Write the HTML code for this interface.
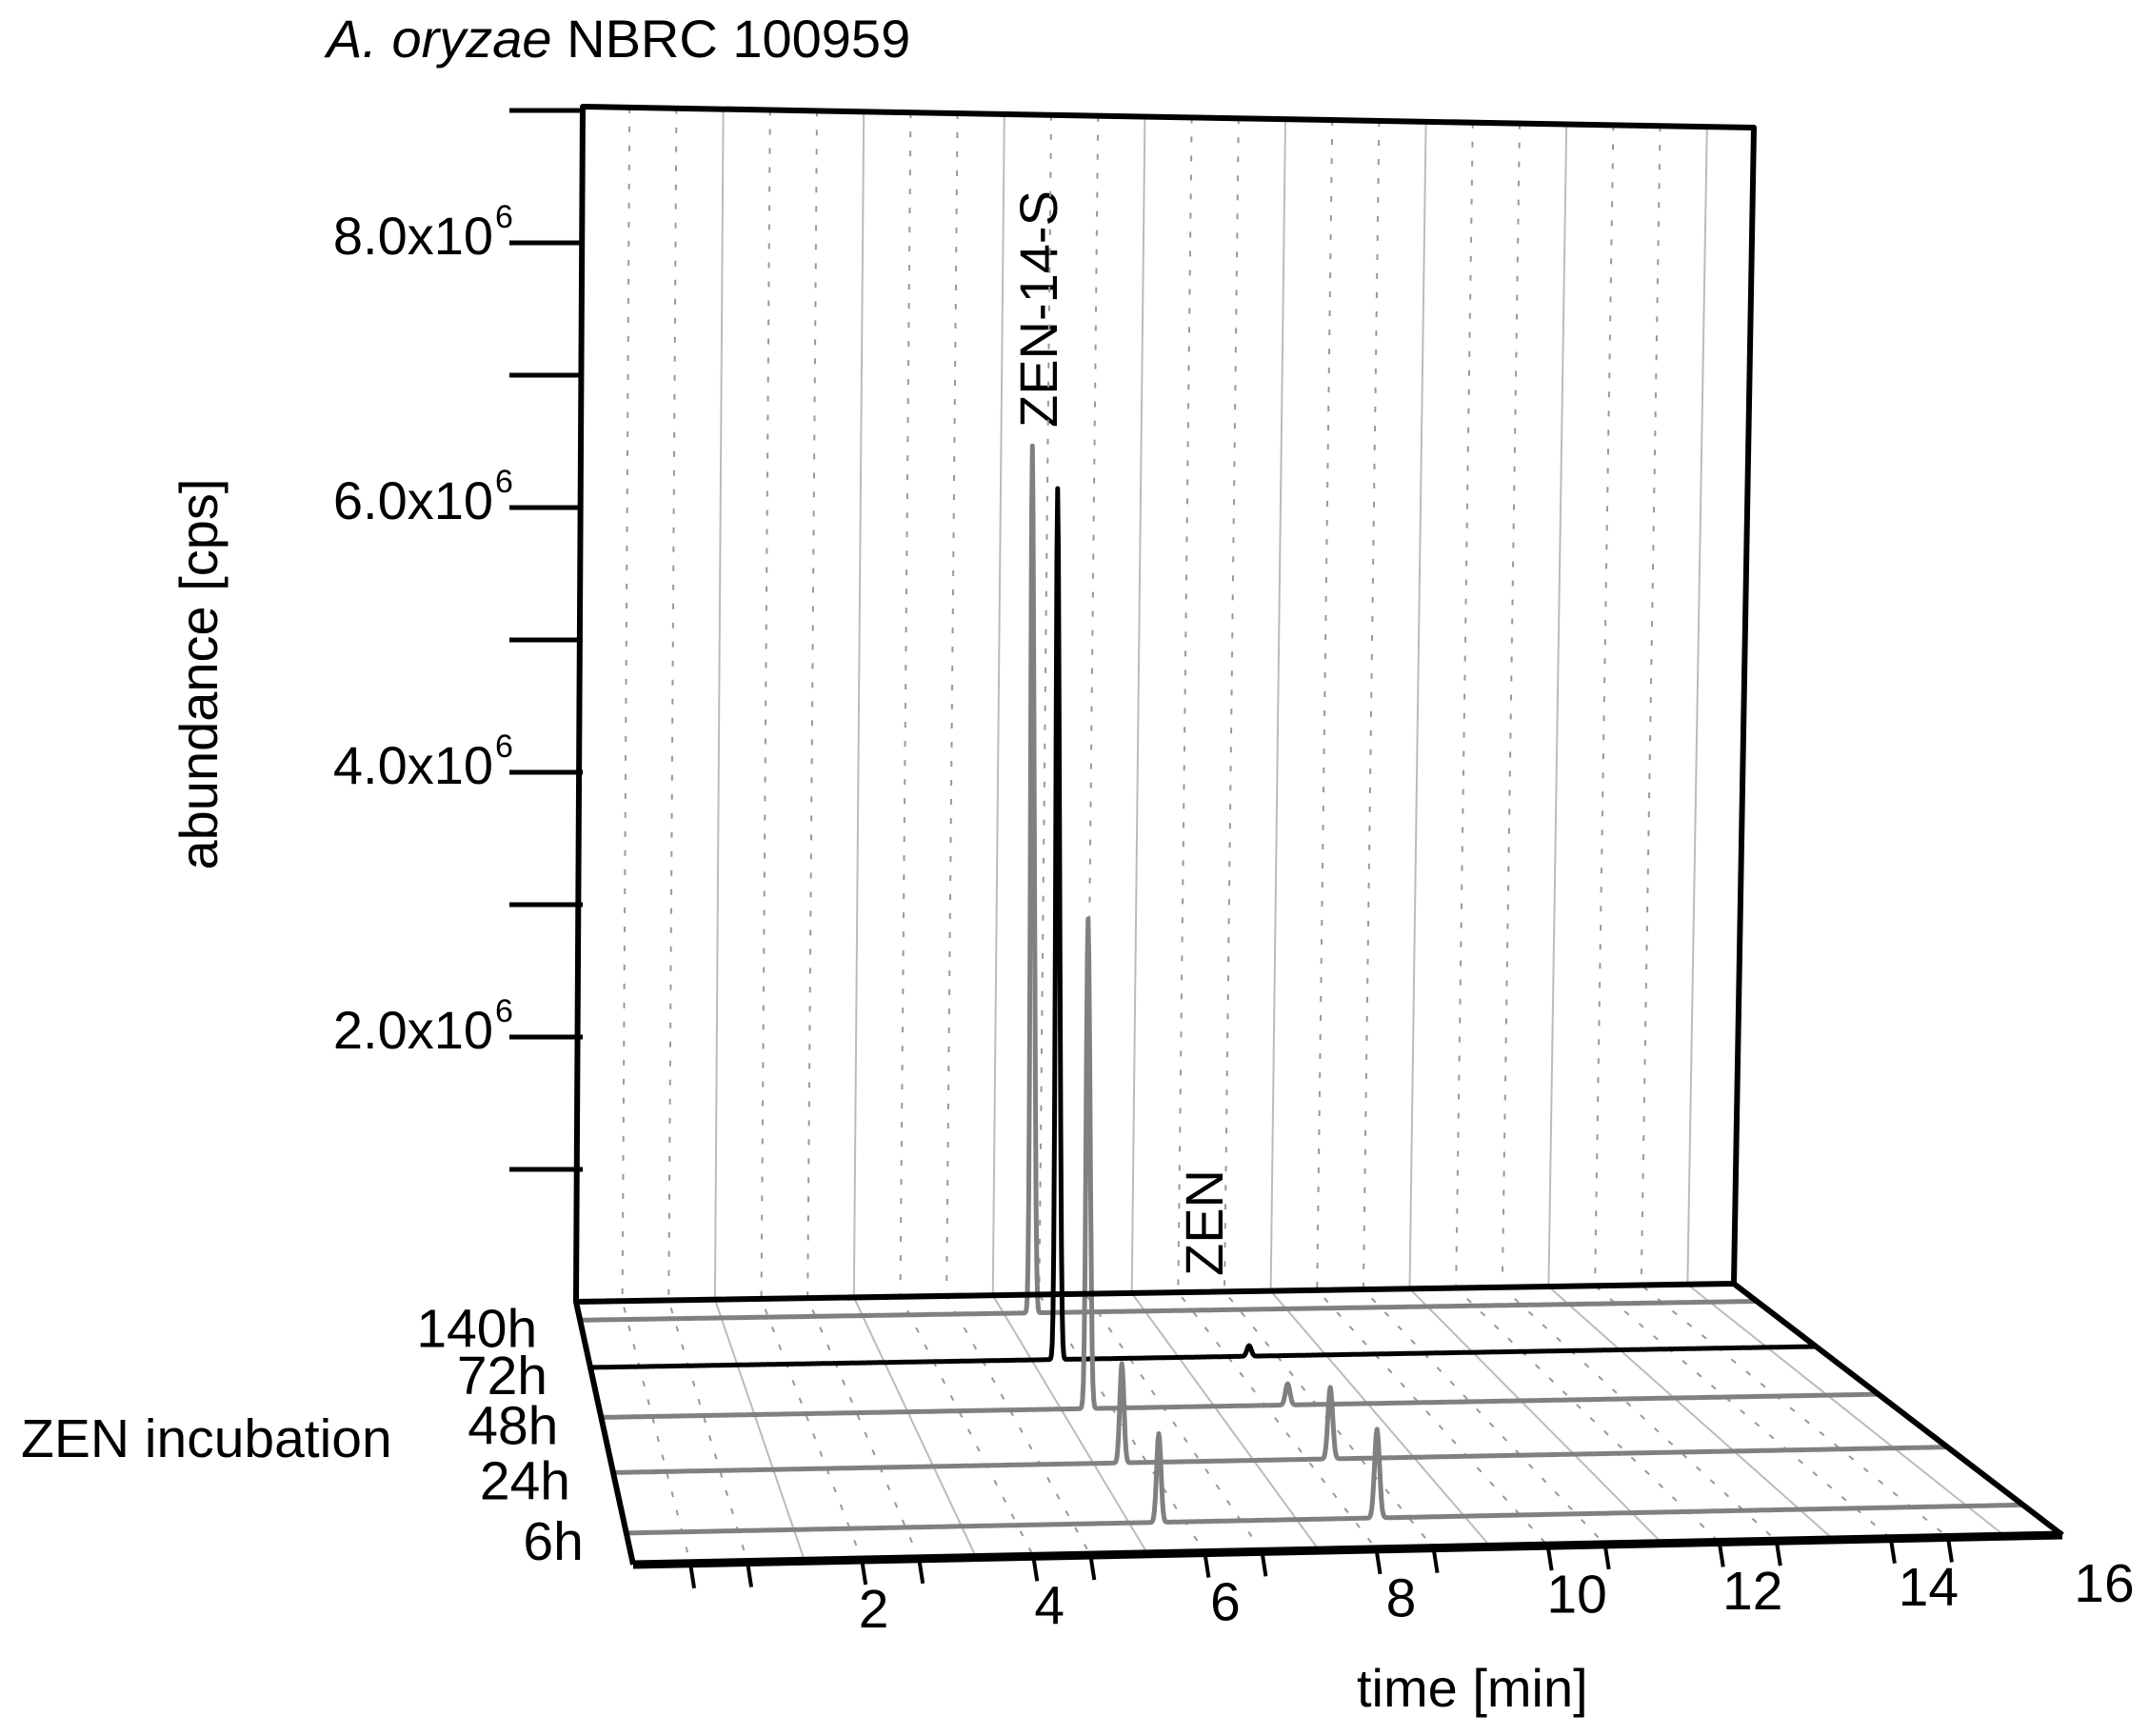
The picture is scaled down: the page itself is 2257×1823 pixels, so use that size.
<!DOCTYPE html>
<html><head><meta charset="utf-8"><style>
html,body{margin:0;padding:0;background:#fff}
svg{display:block}
text{font-family:"Liberation Sans",Arial,sans-serif;fill:#000}
</style></head><body>
<svg id="chart" width="2257" height="1823" viewBox="0 0 2257 1823" xmlns="http://www.w3.org/2000/svg">
<text x="343" y="60" font-size="56"><tspan font-style="italic">A. oryzae</tspan> NBRC 100959</text>
<text transform="translate(228,708) rotate(-90)" text-anchor="middle" font-size="56">abundance [cps]</text>
<text x="22" y="1530" font-size="57">ZEN incubation</text>
<text x="1425" y="1792" font-size="56">time [min]</text>
<text transform="translate(1110,449) rotate(-90)" font-size="56">ZEN-14-S</text>
<text transform="translate(1284,1340) rotate(-90)" font-size="56">ZEN</text>
<g id="grid"></g><g id="series"></g><g id="axes"></g>
</svg>
<script>
const seriesNames = ["140h","72h","48h","24h","6h"];
const seriesDepth = [0.07,0.25,0.44,0.65,0.88];
const seriesColor = ["#808080","#000000","#808080","#808080","#808080"];
const peak1Time = [6.15,6.1,6.1,6.1,6.1];
const peak1Height = [6.55e6,6.58e6,3.7e6,0.75e6,0.67e6];
const peak2Time = [8.6,8.6,8.6,8.6,8.6];
const peak2Height = [0,0.08e6,0.16e6,0.54e6,0.67e6];
const yTicks = [1e6,2e6,3e6,4e6,5e6,6e6,7e6,8e6,9e6];
const yTickLabels = {2e6:"2.0x10",4e6:"4.0x10",6e6:"6.0x10",8e6:"8.0x10"};
const xTickLabels = [2,4,6,8,10,12,14,16];

const NS="http://www.w3.org/2000/svg";
const svg=document.getElementById('chart');
const gGrid=document.getElementById('grid'),gS=document.getElementById('series'),gA=document.getElementById('axes');
const TMAX=16, Y0BACK=1367, PERM=139/1e6;
const BL={x:605,y:1367}, BR={x:1821,y:1348}, FL={x:665,y:1643}, FR={x:2166,y:1612};
function proj(t,d,v){
  const f=t/TMAX;
  const bx=BL.x+(BR.x-BL.x)*f, by=BL.y+(BR.y-BL.y)*f;
  const fx=FL.x+(FR.x-FL.x)*f, fy=FL.y+(FR.y-FL.y)*f;
  return [bx+(fx-bx)*d, by+(fy-by)*d - v*PERM];
}
function wallY(v){return Y0BACK - v*PERM;}
function el(tag,attrs,parent){const e=document.createElementNS(NS,tag);for(const k in attrs)e.setAttribute(k,attrs[k]);parent.appendChild(e);return e;}
const TL={x:612,y:112}, TR={x:1842,y:134};
for(let k=1;k<25;k++){
  const f=k/25, solid=k%3===0;
  const tx=TL.x+(TR.x-TL.x)*f, ty=TL.y+(TR.y-TL.y)*f;
  const bx=BL.x+(BR.x-BL.x)*f, by=BL.y+(BR.y-BL.y)*f;
  const fx=FL.x+(FR.x-FL.x)*f, fy=FL.y+(FR.y-FL.y)*f;
  const l=el('path',{d:`M${tx},${ty}L${bx},${by}L${fx},${fy}`,fill:'none',stroke:solid?'#bbb':'#999','stroke-width':2,'stroke-dasharray':solid?'':'6 14'},gGrid);
  
  
  if(!solid){
    const t=el('line',{x1:fx,y1:fy,x2:fx+4,y2:fy+26,stroke:'#000','stroke-width':4},gA);
    
    
  }
}
seriesNames.forEach((name,i)=>{
  const d=seriesDepth[i]; let pts=[];
  for(let t=0;t<=TMAX;t+=0.01){
    let v=peak1Height[i]*Math.exp(-Math.pow((t-peak1Time[i])/0.035,2))+peak2Height[i]*Math.exp(-Math.pow((t-peak2Time[i])/0.04,2));
    const p=proj(t,d,v); pts.push(p[0].toFixed(1)+','+p[1].toFixed(1));
  }
  const pl=el('polyline',{points:pts.join(' '),fill:'none',stroke:seriesColor[i],'stroke-width':5,'stroke-linejoin':'round'},gS);
  
  
  const p0=proj(0,d,0);
  const lb=el('text',{x:p0[0]-45,y:p0[1]+28,'text-anchor':'end','font-size':57},gA);
  lb.textContent=name;
  
  
});
const frame=el('path',{d:`M${TL.x},${TL.y}L${TR.x},${TR.y}L${BR.x},${BR.y}L${BL.x},${BL.y}Z M${BL.x},${BL.y}L${FL.x},${FL.y} M${BR.x},${BR.y}L${FR.x},${FR.y}`,fill:'none',stroke:'#000','stroke-width':6,'stroke-linejoin':'round'},gA);


const front=el('line',{x1:FL.x,y1:FL.y,x2:FR.x,y2:FR.y,stroke:'#000','stroke-width':9},gA);


yTicks.forEach(v=>{
  const y=wallY(v);
  const t=el('line',{x1:535,y1:y,x2:612,y2:y,stroke:'#000','stroke-width':5},gA);
  
  
  if(yTickLabels[v]){
    const tx=el('text',{x:518,y:y+12,'text-anchor':'end','font-size':56},gA);
    tx.textContent=yTickLabels[v];
    
    
    const sup=el('text',{x:520,y:y-16,'font-size':34},gA);
    sup.textContent='6';
    
    
  }
});
xTickLabels.forEach(t=>{
  const p=proj(t,1,0);
  const tx=el('text',{x:p[0]+68-1.5*t,y:p[1]+70,'text-anchor':'middle','font-size':57},gA);
  tx.textContent=String(t);
  
  
});
</script>
</body></html>
